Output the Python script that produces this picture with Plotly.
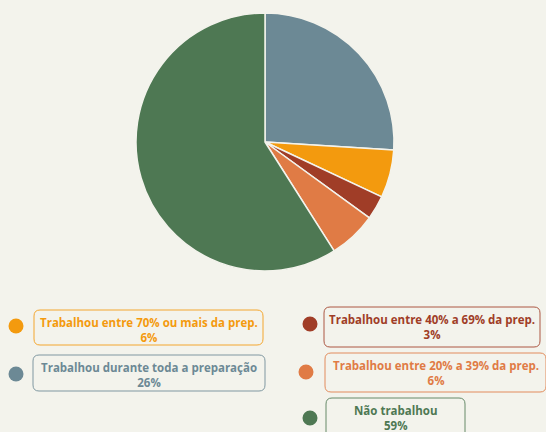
import plotly.graph_objects as go

labels = [
    "Trabalhou durante toda a preparação",
    "Trabalhou entre 70% ou mais da prep.",
    "Trabalhou entre 40% a 69% da prep.",
    "Trabalhou entre 20% a 39% da prep.",
    "Não trabalhou",
]
values = [26, 6, 3, 6, 59]
colors = ["#6C8995", "#F39A0E", "#A03D27", "#E07B45", "#4E7853"]

BG = "#F3F3EC"
W, H = 546, 432

fig = go.Figure()
fig.add_trace(go.Pie(
    labels=labels, values=values, sort=False, direction="clockwise", rotation=0,
    marker=dict(colors=colors, line=dict(color="#F3F3EC", width=1.5)),
    textinfo="none", hoverinfo="label+percent", showlegend=False,
    domain=dict(x=[136 / W, 394 / W], y=[1 - 271 / H, 1 - 13 / H]),
))

# legend layout (pixel boxes): index -> (dot_x, dot_y, x0, y0, x1, y1)
legend_pos = {
    1: (16, 326, 34, 310, 263, 345),
    0: (16, 374, 33, 355, 265, 391),
    2: (310, 324, 324, 307, 540, 347),
    3: (306, 372, 325, 353, 546, 392),
    4: (310, 418, 326, 398, 465, 440),
}

def px(x):
    return x / W

def py(y):
    return 1 - y / H

def rounded_path(x0, y0, x1, y1, r=6):
    pts = [
        f"M {px(x0 + r)},{py(y0)}",
        f"L {px(x1 - r)},{py(y0)}",
        f"Q {px(x1)},{py(y0)} {px(x1)},{py(y0 + r)}",
        f"L {px(x1)},{py(y1 - r)}",
        f"Q {px(x1)},{py(y1)} {px(x1 - r)},{py(y1)}",
        f"L {px(x0 + r)},{py(y1)}",
        f"Q {px(x0)},{py(y1)} {px(x0)},{py(y1 - r)}",
        f"L {px(x0)},{py(y0 + r)}",
        f"Q {px(x0)},{py(y0)} {px(x0 + r)},{py(y0)}",
        "Z",
    ]
    return " ".join(pts)

shapes = []
annotations = []
for i, (dx, dy, x0, y0, x1, y1) in legend_pos.items():
    c = colors[i]
    shapes.append(dict(type="path", xref="paper", yref="paper",
                       path=rounded_path(x0, y0, x1, y1),
                       line=dict(color=c, width=1), fillcolor=BG, opacity=0.85))
    rr = 7.5
    shapes.append(dict(type="circle", xref="paper", yref="paper",
                       x0=px(dx - rr), x1=px(dx + rr), y0=py(dy + rr), y1=py(dy - rr),
                       fillcolor=c, line=dict(width=0)))
    annotations.append(dict(
        xref="paper", yref="paper", x=px((x0 + x1) / 2), y=py(y0 + 20),
        xanchor="center", yanchor="middle", showarrow=False,
        text=f"<b>{labels[i]}<br>{values[i]}%</b>",
        font=dict(family="Open Sans", size=11.5, color=c), align="center",
    ))

fig.update_layout(
    width=W, height=H, margin=dict(l=0, r=0, t=0, b=0),
    paper_bgcolor=BG, plot_bgcolor=BG,
    shapes=shapes, annotations=annotations,
)
fig.write_html("out.html", config={"displayModeBar": False},
               post_script="document.body.style.margin='0';")
